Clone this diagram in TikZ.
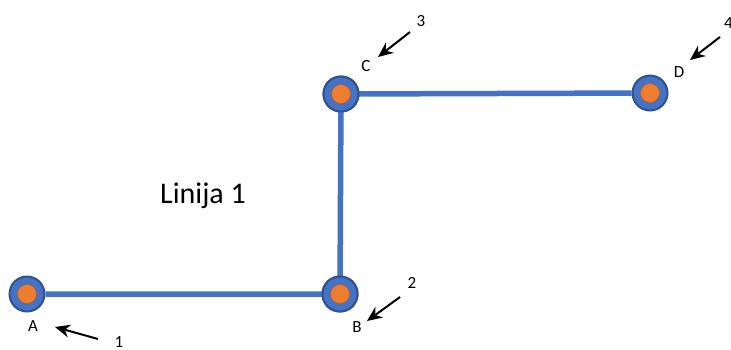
\documentclass[tikz,border=0pt]{standalone}
\usepackage{fontspec}
\setmainfont{Carlito}
\usepackage{tikz}
\usetikzlibrary{
  arrows.meta,
  positioning
}
\usepackage{xcolor}
\definecolor{lineblue}{RGB}{68, 114, 196}
\definecolor{rimblue}{RGB}{47, 82, 143}
\definecolor{coreorange}{RGB}{237, 125, 49}
\definecolor{rimorange}{RGB}{190, 95, 40}
\tikzset{
  % Linija
  trackline/.style  = {line width=5.5pt, draw=lineblue},
  % Stanice
  station/.style    = {circle, minimum size=35pt, inner sep=0pt,
                       fill=lineblue, draw=rimblue, line width=2pt,
                       path picture={\fill[coreorange, draw=rimorange, line width=0.7pt]
                         (path picture bounding box.center) circle (9.5pt);}},
  % Oznake
  stlabel/.style    = {font=\fontsize{17}{19}\selectfont, inner sep=1pt},
  numlabel/.style   = {font=\fontsize{17}{19}\selectfont, inner sep=1pt},
  titlelabel/.style = {font=\fontsize{30}{34}\selectfont},
  % Strelice
  pointer/.style    = {-{Stealth[length=15pt, width=13pt]}, line width=2pt, black},
}
\begin{document}
\begin{tikzpicture}[x=1pt, y=-1pt]
  \useasboundingbox (0,0) rectangle (731,349);
  % stanice
  \node[station] (A) at (27,294) {};
  \node[station] (B) at (340,294) {};
  \node[station] (C) at (341,94) {};
  \node[station] (D) at (650,93) {};
  % linija
  \draw[trackline] (A) -- (B.center) -- (C.center) -- (D);
  \node[station] at (B) {};
  \node[station] at (C) {};
  % oznake stanica
  \node[stlabel] (labA) at (33,326) {A};
  \node[stlabel] (labB) at (357,327) {B};
  \node[stlabel] (labC) at (366,66) {C};
  \node[stlabel] (labD) at (679,72) {D};
  \node[titlelabel] (title) at (203,196) {Linija 1};
  % brojevi
  \node[numlabel] (n1) at (119,342) {1};
  \node[numlabel] (n2) at (412,283) {2};
  \node[numlabel] (n3) at (421,21) {3};
  \node[numlabel, anchor=west] (n4) at (723,23) {4};
  % strelice
  \coordinate (t1) at (55,327);
  \coordinate (t2) at (367,321);
  \coordinate (t3) at (378,57);
  \coordinate (t4) at (690,60);
  \draw[pointer] (98,339) -- (t1);
  \draw[pointer] (400,297) -- (t2);
  \draw[pointer] (410,32) -- (t3);
  \draw[pointer] (720,37) -- (t4);
\end{tikzpicture}
\end{document}
